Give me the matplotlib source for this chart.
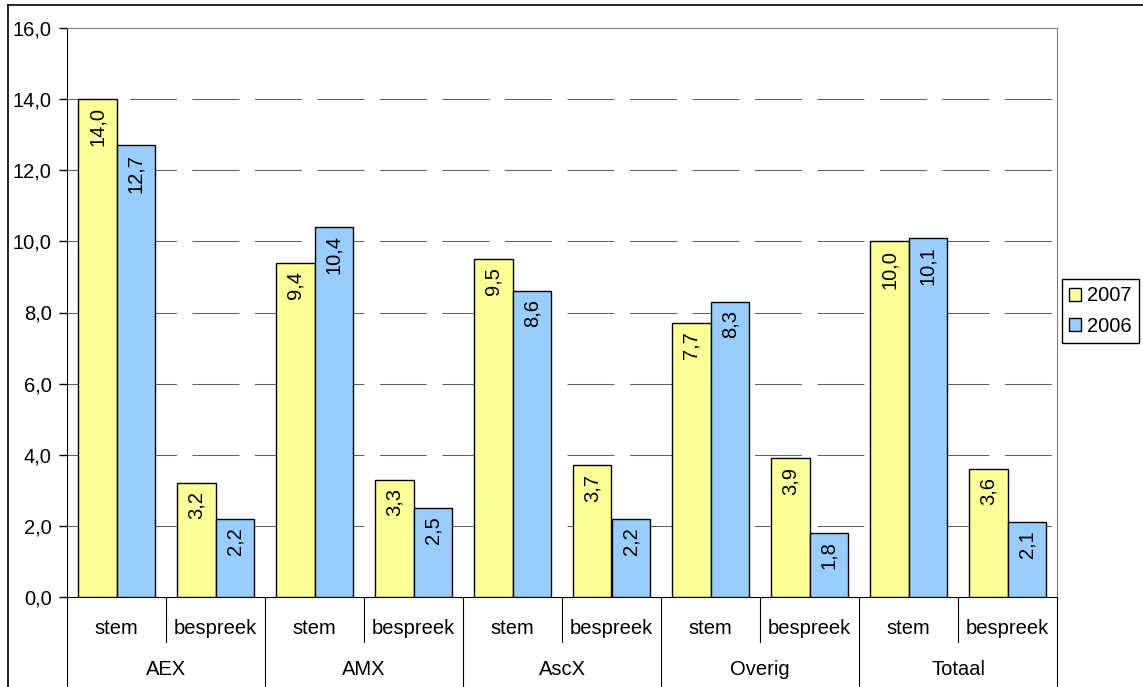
import matplotlib.pyplot as plt
import numpy as np
from matplotlib.lines import Line2D

plt.rcParams['font.family'] = ['Liberation Sans', 'DejaVu Sans']

groups = ["AEX", "AMX", "AscX", "Overig", "Totaal"]
subs = ["stem", "bespreek"]
vals_2007 = [14.0, 3.2, 9.4, 3.3, 9.5, 3.7, 7.7, 3.9, 10.0, 3.6]
vals_2006 = [12.7, 2.2, 10.4, 2.5, 8.6, 2.2, 8.3, 1.8, 10.1, 2.1]
yticks = [0, 2, 4, 6, 8, 10, 12, 14, 16]

col_2007 = "#FFFF99"
col_2006 = "#99CCFF"
fs = 14.5

fig = plt.figure(figsize=(11.43, 6.87), dpi=100)
ax = fig.add_axes([67 / 1143, 1 - 597 / 687, 990 / 1143, 569 / 687])

x = np.arange(len(vals_2007))
w = 0.39
b1 = ax.bar(x - w / 2, vals_2007, w, color=col_2007, edgecolor="black", linewidth=1, label="2007", zorder=3)
b2 = ax.bar(x + w / 2, vals_2006, w, color=col_2006, edgecolor="black", linewidth=1, label="2006", zorder=3)

# value labels, rotated, inside the top of each bar
for bars, vals in [(b1, vals_2007), (b2, vals_2006)]:
    for r, v in zip(bars, vals):
        ax.annotate(("%.1f" % v).replace(".", ","),
                    (r.get_x() + r.get_width() / 2, v),
                    xytext=(0, -6), textcoords="offset points",
                    rotation=90, ha="center", va="top", fontsize=fs, zorder=4)

ax.set_xlim(-0.5, len(x) - 0.5)
ax.set_ylim(0, 16)
ax.set_yticks(yticks)
ax.set_yticklabels([("%.1f" % t).replace(".", ",") for t in yticks], fontsize=fs)
ax.tick_params(axis="y", length=6, width=1, pad=5)
ax.set_xticks([])

for t in yticks[1:-1]:
    ax.axhline(t, color="#606060", linewidth=0.75, dashes=(45, 15), zorder=1)

ax.spines["top"].set_color("#808080")
ax.spines["right"].set_color("#808080")
ax.spines["left"].set_color("black")
ax.spines["bottom"].set_color("black")

# two-level category axis
trans = ax.get_xaxis_transform()
for k in range(len(groups) + 1):
    ax.plot([2 * k - 0.5, 2 * k - 0.5], [0, -0.16], color="black", linewidth=0.8,
            transform=trans, clip_on=False)
for k in range(len(groups)):
    ax.plot([2 * k + 0.5, 2 * k + 0.5], [0, -0.079], color="black", linewidth=0.8,
            transform=trans, clip_on=False)
    ax.text(2 * k + 0.5, -0.128, groups[k], transform=trans, ha="center", va="center", fontsize=fs)
    for j, s in enumerate(subs):
        ax.text(2 * k + j, -0.0545, s, transform=trans, ha="center", va="center", fontsize=fs)

fig.legend(handles=[b1, b2], labels=["2007", "2006"], loc="center left",
           bbox_to_anchor=(1062 / 1143, 1 - 311 / 687), fontsize=fs,
           frameon=True, fancybox=False, edgecolor="black", framealpha=1,
           handlelength=0.6, handleheight=0.6, handletextpad=0.3,
           borderpad=0.35, labelspacing=0.55, borderaxespad=0)

# outer chart border
fig.add_artist(Line2D([8 / 1143, 1], [1 - 5 / 687, 1 - 5 / 687], color="black", linewidth=1.2))
fig.add_artist(Line2D([8 / 1143, 8 / 1143], [0, 1 - 5 / 687], color="black", linewidth=1.2))

fig.savefig("out.png", dpi=100)
